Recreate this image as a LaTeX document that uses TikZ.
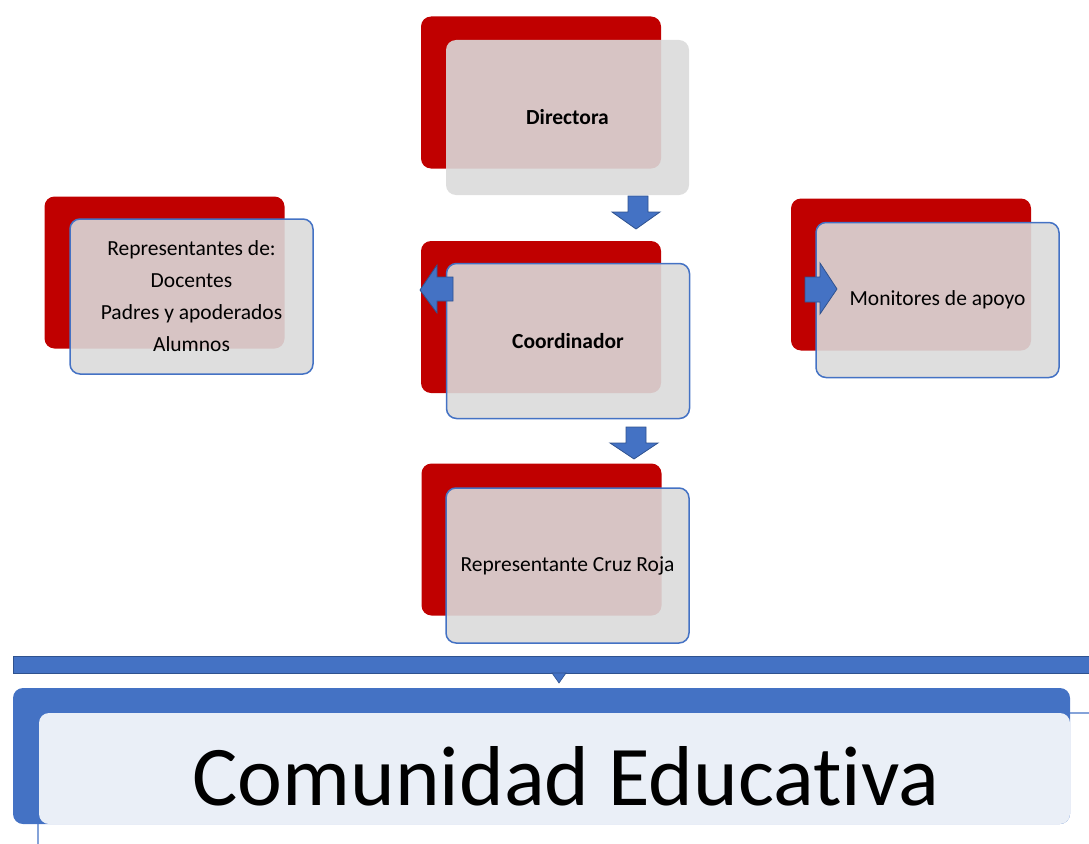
\documentclass[tikz,border=0pt]{standalone}
\usepackage{fontspec}
\setmainfont[Ligatures={NoCommon}]{Carlito}
\definecolor{boxred}{RGB}{192,0,0}
\definecolor{boxgray}{RGB}{218,218,218}
\definecolor{accent}{RGB}{68,114,196}
\definecolor{accentdark}{RGB}{47,82,143}
\definecolor{lightblue}{RGB}{234,239,247}
\begin{document}
\begin{tikzpicture}[x=1pt,y=-1pt,
  redbox/.style={fill=boxred,draw=none,rounded corners=10pt,minimum width=240pt,minimum height=152pt,inner sep=0pt},
  graybox/.style={fill=boxgray,fill opacity=0.9,text opacity=1,draw=accent,line width=1.5pt,rounded corners=10pt,minimum width=243pt,minimum height=155pt,inner sep=0pt,align=center,font=\fontsize{21.5}{32}\selectfont},
  blockarrow/.style={fill=accent,draw=accentdark,line width=0.8pt}]
\useasboundingbox (0,0) rectangle (1089,843);
% red back boxes
\node[redbox] (r1) at (541,92.5) {};
\node[redbox] (r2) at (541,317) {};
\node[redbox] (r3) at (164.5,272.5) {};
\node[redbox] (r4) at (911,274.5) {};
\node[redbox] (r5) at (541.5,539.5) {};
% gray front boxes
\node[graybox,draw=none] (dir) at (567.5,117.5) {\bfseries Directora};
\node[graybox] (coord) at (568,341) {\bfseries Coordinador};
\node[graybox] (rep) at (191.5,296.5) {Representantes de:\\Docentes\\Padres y apoderados\\Alumnos};
\node[graybox] (mon) at (937.5,300) {Monitores de apoyo};
\node[graybox] (cruz) at (567.5,565.5) {Representante Cruz Roja};
% block arrows
\draw[blockarrow] (628,196) -- (648,196) -- (648,212) -- (660,212) -- (636,229) -- (612,212) -- (628,212) -- cycle;
\draw[blockarrow] (626,427) -- (646,427) -- (646,443) -- (658,443) -- (634,459) -- (610,443) -- (626,443) -- cycle;
\draw[blockarrow] (453,277) -- (437,277) -- (437,265) -- (420,290) -- (437,313) -- (437,301) -- (453,301) -- cycle;
\draw[blockarrow] (805,277) -- (820,277) -- (820,263) -- (837,289) -- (820,314) -- (820,302) -- (805,302) -- cycle;
% bottom band
\draw[fill=accent,draw=accentdark,line width=1pt] (13,656) rectangle (1095,673);
\draw[fill=accent,draw=accentdark,line width=0.6pt] (552,673) -- (566,673) -- (559,683) -- cycle;
\node[fill=accent,draw=none,rounded corners=10pt,minimum width=1057pt,minimum height=136pt,inner sep=0pt] (cb) at (541.5,756) {};
\begin{scope}
\clip (0,0) rectangle (1089,843);
\draw[accent,line width=1.2pt,rounded corners=10pt] (38,713) rectangle (1100,870);
\end{scope}
\draw[accent,line width=1pt] (915,713) -- (915,717);
\node[fill=lightblue,draw=none,rounded corners=10pt,minimum width=1031pt,minimum height=111pt,inner sep=0pt] (ce) at (554.5,768.5) {};
\node[anchor=base,font=\fontsize{85}{85}\selectfont,inner sep=0pt] (ctext) at (566,805) {Comunidad Educativa};
\end{tikzpicture}
\end{document}
